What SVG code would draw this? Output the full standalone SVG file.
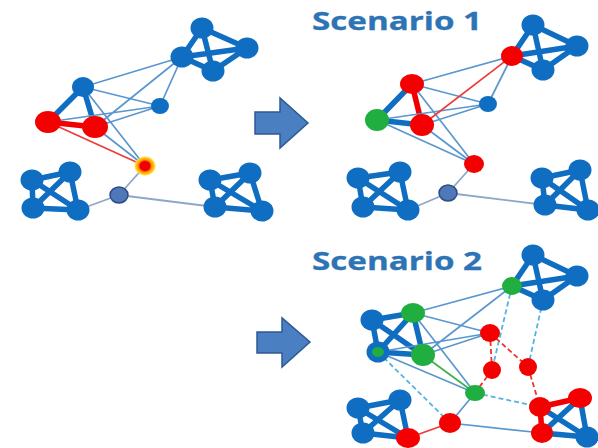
<svg xmlns="http://www.w3.org/2000/svg" width="598" height="448" viewBox="0 0 598 448">
<defs>
<radialGradient id="glow" cx="0.5" cy="0.5" r="0.5">
<stop offset="0.45" stop-color="#f00000"/>
<stop offset="0.6" stop-color="#ff8c00"/>
<stop offset="0.85" stop-color="#ffd21a"/>
<stop offset="1" stop-color="#ffe680" stop-opacity="0.3"/>
</radialGradient>
</defs>
<style>
.bg{fill:#ffffff}
.nb{fill:#0f6ec2}
.nr{fill:#f50000}
.ng{fill:#1fae3f}
.ngrey{fill:#4f78b8;stroke:#2b4d82;stroke-width:1.5}
.tb{stroke:#0f6ec2;stroke-width:5.5;stroke-linecap:round;fill:none}
.tr{stroke:#f00000;stroke-width:5.5;stroke-linecap:round;fill:none}
.lb{stroke:#5a97cf;stroke-width:1.7;fill:none}
.lr{stroke:#ee3a3a;stroke-width:1.7;fill:none}
.lg{stroke:#3fb24f;stroke-width:1.8;fill:none}
.lgrey{stroke:#8ea7c8;stroke-width:1.8;fill:none}
.db{stroke:#55b3e0;stroke-width:1.8;stroke-dasharray:5 3;fill:none}
.dr{stroke:#f03030;stroke-width:1.8;stroke-dasharray:5 3;fill:none}
.arrow{fill:#4a7fc1;stroke:#2f5a92;stroke-width:1.5}
.title{font-family:"Open Sans","Liberation Sans",sans-serif;font-weight:700;font-size:25px;fill:#2e74b5;stroke:#2e74b5;stroke-width:0.3}
</style>
<rect class="bg" x="0" y="0" width="598" height="448"/>

<g id="connectors">
<path class="tb" d="M202,28 L182,57 M202,28 L247,48 M202,28 L213,71 M182,57 L247,48 M182,57 L213,71 M247,48 L213,71"/>
<path class="tb" d="M83,87 L48,122 M83,87 L95,127"/>
<path class="tr" d="M48,122 L95,127"/>
<path class="tb" d="M70,172 L32,180 M70,172 L33,208 M70,172 L78,210 M32,180 L33,208 M32,180 L78,210 M33,208 L78,210"/>
<path class="tb" d="M250,173 L210,180 M250,173 L215,207 M250,173 L262,211 M210,180 L215,207 M210,180 L262,211 M215,207 L262,211"/>
<path class="lb" d="M182,57 L83,87 M182,57 L95,127 M182,57 L160,106 M83,87 L160,106 M83,87 L145,166 M48,122 L160,106 M95,127 L160,106 M95,127 L145,166"/>
<path class="lr" d="M48,122 L145,166"/>
<path class="lgrey" d="M145,166 L119,195 M119,195 L78,210 M119,195 L215,207"/>

<path class="tb" d="M533,25 L512,56 M533,25 L577,46 M533,25 L543,70 M512,56 L577,46 M512,56 L543,70 M577,46 L543,70"/>
<path class="tb" d="M412,84 L377,120 M377,120 L422,125"/>
<path class="tr" d="M412,84 L422,125"/>
<path class="tb" d="M400,172 L358,178 M400,172 L363,207 M400,172 L408,210 M358,178 L363,207 M358,178 L408,210 M363,207 L408,210"/>
<path class="tb" d="M580,170 L542,178 M580,170 L545,205 M580,170 L588,210 M542,178 L545,205 M542,178 L588,210 M545,205 L588,210"/>
<path class="lb" d="M512,56 L412,84 M512,56 L488,104 M412,84 L488,104 M412,84 L474,164 M377,120 L488,104 M377,120 L474,164 M422,125 L488,104 M422,125 L474,164"/>
<path class="lr" d="M512,56 L422,125"/>
<path class="lgrey" d="M474,164 L448,193 M448,193 L408,210 M448,193 L545,205"/>

<path class="tb" d="M533,255 L512,286 M533,255 L577,276 M533,255 L543,300 M512,286 L577,276 M512,286 L543,300 M577,276 L543,300"/>
<path class="tb" d="M372,320 L413,313 M372,320 L378,352 M372,320 L423,355 M413,313 L378,352 M413,313 L423,355 M378,352 L423,355"/>
<path class="tb" d="M400,400 L358,408 M400,400 L363,433 M400,400 L408,438 M358,408 L363,433 M358,408 L408,438 M363,433 L408,438"/>
<path class="tb" d="M580,398 L542,433 M540,407 L587,437 M580,398 L587,437 M542,433 L587,437"/>
<path class="tr" d="M540,407 L580,398 M540,407 L542,433"/>
<path class="lb" d="M512,286 L413,313 M512,286 L423,355 M413,313 L490,333 M378,352 L490,333 M423,355 L490,333 M413,313 L475,393 M378,352 L475,393 M475,393 L450,423 M450,423 L542,433"/>
<path class="lg" d="M423,355 L475,393"/>
<path class="lr" d="M450,423 L408,438"/>
<path class="db" d="M512,286 L492,370 M543,300 L528,367 M378,352 L450,423 M475,393 L540,407"/>
<path class="dr" d="M490,333 L492,370 M490,333 L528,367 M492,370 L475,393 M528,367 L540,407"/>
</g>

<g id="arrow1"><polygon class="arrow" points="255,112 280,112 280,98 308,123 280,148 280,134 255,134"/></g>
<g id="arrow2"><polygon class="arrow" points="257,332 282,332 282,318 310,342 282,367 282,353 257,353"/></g>

<g id="title1"><text class="title" x="312" y="30" textLength="170" lengthAdjust="spacingAndGlyphs">Scenario 1</text></g>
<g id="title2"><text class="title" x="312" y="270" textLength="170" lengthAdjust="spacingAndGlyphs">Scenario 2</text></g>

<g id="p1_top_t"><ellipse class="nb" cx="202" cy="28" rx="11.5" ry="10.5"/></g>
<g id="p1_top_r"><ellipse class="nb" cx="247" cy="48" rx="11.5" ry="10.5"/></g>
<g id="p1_top_l"><ellipse class="nb" cx="182" cy="57" rx="11.5" ry="10.5"/></g>
<g id="p1_top_b"><ellipse class="nb" cx="213" cy="71" rx="11.5" ry="10.5"/></g>
<g id="p1_tri_top"><ellipse class="nb" cx="83" cy="87" rx="11" ry="10"/></g>
<g id="p1_tri_l"><ellipse class="nr" cx="48" cy="122" rx="13" ry="11"/></g>
<g id="p1_tri_r"><ellipse class="nr" cx="95" cy="127" rx="13" ry="11"/></g>
<g id="p1_small"><ellipse class="nb" cx="160" cy="106" rx="9" ry="8"/></g>
<g id="p1_glow"><ellipse fill="url(#glow)" cx="145" cy="166" rx="11" ry="10"/></g>
<g id="p1_grey"><ellipse class="ngrey" cx="119" cy="195" rx="9" ry="8"/></g>
<g id="p1_bl_tr"><ellipse class="nb" cx="70" cy="172" rx="11.5" ry="10.5"/></g>
<g id="p1_bl_l"><ellipse class="nb" cx="32" cy="180" rx="11.5" ry="10.5"/></g>
<g id="p1_bl_bl"><ellipse class="nb" cx="33" cy="208" rx="11.5" ry="10.5"/></g>
<g id="p1_bl_br"><ellipse class="nb" cx="78" cy="210" rx="11.5" ry="10.5"/></g>
<g id="p1_br_tr"><ellipse class="nb" cx="250" cy="173" rx="11.5" ry="10.5"/></g>
<g id="p1_br_l"><ellipse class="nb" cx="210" cy="180" rx="11.5" ry="10.5"/></g>
<g id="p1_br_bl"><ellipse class="nb" cx="215" cy="207" rx="11.5" ry="10.5"/></g>
<g id="p1_br_br"><ellipse class="nb" cx="262" cy="211" rx="11.5" ry="10.5"/></g>

<g id="s1_top_t"><ellipse class="nb" cx="533" cy="25" rx="11.5" ry="10.5"/></g>
<g id="s1_top_r"><ellipse class="nb" cx="577" cy="46" rx="11.5" ry="10.5"/></g>
<g id="s1_top_l"><ellipse class="nr" cx="512" cy="56" rx="11" ry="10"/></g>
<g id="s1_top_b"><ellipse class="nb" cx="543" cy="70" rx="11.5" ry="10.5"/></g>
<g id="s1_tri_top"><ellipse class="nr" cx="412" cy="84" rx="12" ry="10"/></g>
<g id="s1_tri_l"><ellipse class="ng" cx="377" cy="120" rx="12" ry="11"/></g>
<g id="s1_tri_r"><ellipse class="nr" cx="422" cy="125" rx="12" ry="11"/></g>
<g id="s1_small"><ellipse class="nb" cx="488" cy="104" rx="9" ry="8"/></g>
<g id="s1_red"><ellipse class="nr" cx="474" cy="164" rx="10" ry="9"/></g>
<g id="s1_grey"><ellipse class="ngrey" cx="448" cy="193" rx="9" ry="8"/></g>
<g id="s1_bl_tr"><ellipse class="nb" cx="400" cy="172" rx="11.5" ry="10.5"/></g>
<g id="s1_bl_l"><ellipse class="nb" cx="358" cy="178" rx="11.5" ry="10.5"/></g>
<g id="s1_bl_bl"><ellipse class="nb" cx="363" cy="207" rx="11.5" ry="10.5"/></g>
<g id="s1_bl_br"><ellipse class="nb" cx="408" cy="210" rx="11.5" ry="10.5"/></g>
<g id="s1_br_tr"><ellipse class="nb" cx="580" cy="170" rx="11.5" ry="10.5"/></g>
<g id="s1_br_l"><ellipse class="nb" cx="542" cy="178" rx="11.5" ry="10.5"/></g>
<g id="s1_br_bl"><ellipse class="nb" cx="545" cy="205" rx="11.5" ry="10.5"/></g>
<g id="s1_br_br"><ellipse class="nb" cx="588" cy="210" rx="11.5" ry="10.5"/></g>

<g id="s2_top_t"><ellipse class="nb" cx="533" cy="255" rx="11.5" ry="10.5"/></g>
<g id="s2_top_r"><ellipse class="nb" cx="577" cy="276" rx="11.5" ry="10.5"/></g>
<g id="s2_top_l"><ellipse class="ng" cx="512" cy="286" rx="10" ry="9"/></g>
<g id="s2_top_b"><ellipse class="nb" cx="543" cy="300" rx="11.5" ry="10.5"/></g>
<g id="s2_cl_tl"><ellipse class="nb" cx="372" cy="320" rx="11.5" ry="10.5"/></g>
<g id="s2_cl_tr"><ellipse class="ng" cx="413" cy="313" rx="12" ry="10"/></g>
<g id="s2_cl_bl"><ellipse class="nb" cx="378" cy="352" rx="11.5" ry="10.5"/><ellipse class="ng" cx="378" cy="352" rx="6" ry="5"/></g>
<g id="s2_cl_br"><ellipse class="ng" cx="423" cy="355" rx="12" ry="11"/></g>
<g id="s2_red_a"><ellipse class="nr" cx="490" cy="333" rx="10" ry="9"/></g>
<g id="s2_red_b"><ellipse class="nr" cx="492" cy="370" rx="9" ry="9"/></g>
<g id="s2_red_c"><ellipse class="nr" cx="528" cy="367" rx="9" ry="9"/></g>
<g id="s2_green"><ellipse class="ng" cx="475" cy="393" rx="10" ry="8"/></g>
<g id="s2_red_d"><ellipse class="nr" cx="450" cy="423" rx="11" ry="10"/></g>
<g id="s2_bl_tr"><ellipse class="nb" cx="400" cy="400" rx="11.5" ry="10.5"/></g>
<g id="s2_bl_l"><ellipse class="nb" cx="358" cy="408" rx="11.5" ry="10.5"/></g>
<g id="s2_bl_bl"><ellipse class="nb" cx="363" cy="433" rx="11.5" ry="10.5"/></g>
<g id="s2_bl_br"><ellipse class="nr" cx="408" cy="438" rx="12" ry="10"/></g>
<g id="s2_br_tr"><ellipse class="nr" cx="580" cy="398" rx="12" ry="10"/></g>
<g id="s2_br_l"><ellipse class="nr" cx="540" cy="407" rx="11" ry="10"/></g>
<g id="s2_br_bl"><ellipse class="nr" cx="542" cy="433" rx="11" ry="10"/></g>
<g id="s2_br_br"><ellipse class="nb" cx="587" cy="437" rx="11.5" ry="10.5"/></g>
</svg>
